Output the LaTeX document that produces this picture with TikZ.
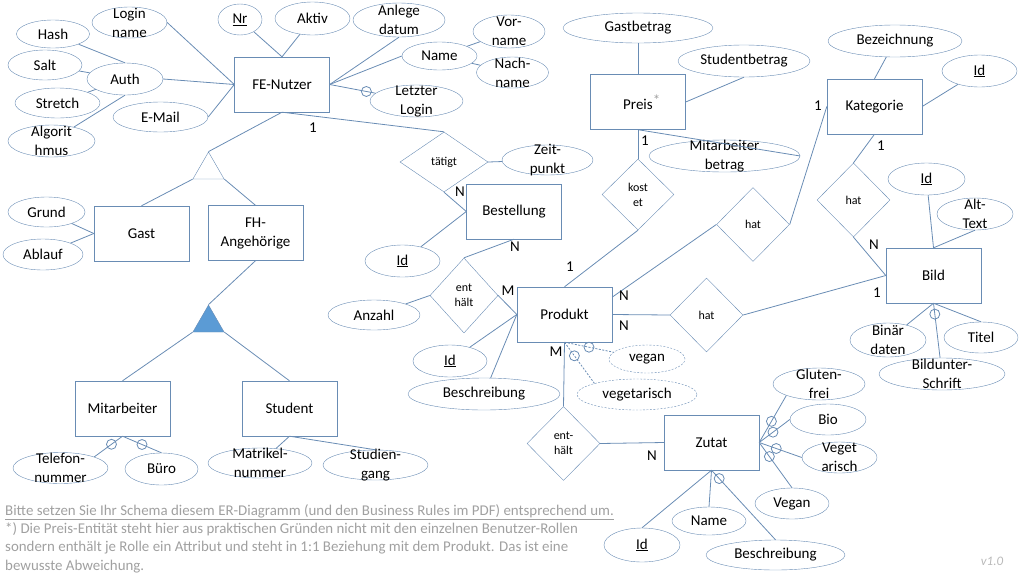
\documentclass[tikz,border=0pt]{standalone}
\usepackage{fontspec}
\setmainfont{Carlito}
\usepackage{xcolor}
\usetikzlibrary{shapes.geometric}

\definecolor{erlinie}{RGB}{105,140,180}
\definecolor{isablau}{RGB}{91,155,213}
\definecolor{notizgrau}{RGB}{160,160,160}
\definecolor{versiongrau}{RGB}{185,185,185}

\newcommand{\erschrift}{\fontsize{15}{19}\selectfont}
\newcommand{\relschrift}{\fontsize{12}{15}\selectfont}
\newcommand{\notizschrift}{\fontsize{14.9}{18.3}\selectfont}

\begin{document}
\begin{tikzpicture}[x=1pt,y=-1pt,
    entity/.style={draw=erlinie,rectangle,minimum width=95pt,minimum height=55pt,align=center,font=\erschrift},
    attr/.style={draw=erlinie,ellipse,inner sep=0pt,minimum width=#1,minimum height=31pt,font=\erschrift},
    attr/.default=75pt,
    zweizeilig/.style={label={[font=\erschrift,align=center,inner sep=0pt]center:#1}},
    rel/.style={draw=erlinie,diamond,inner sep=0pt,minimum width=73pt,minimum height=74pt,align=center,font=\relschrift},
    isa/.style={draw=erlinie,regular polygon,regular polygon sides=3,minimum size=36pt,inner sep=0pt},
    kard/.style={font=\erschrift,inner sep=0pt},
    con/.style={draw=erlinie,line width=0.8pt},
    optc/.style={draw=erlinie,solid,circle,inner sep=0pt,minimum size=10pt},
    dline/.style={dash pattern=on 2pt off 1.5pt},
  ]
	\useasboundingbox (0,0) rectangle (1024,576);
	% Entitaeten
	\node[entity] (fe) at (282,84.5) {FE-Nutzer};
	\node[entity] (preis) at (638,102) {Preis\rlap{\raisebox{4pt}{\textcolor{notizgrau}{*}}}};
	\node[entity] (kat) at (874.5,106.5) {Kategorie};
	\node[entity] (gast) at (141.5,233.5) {Gast};
	\node[entity] (fh) at (255.5,233) {FH-\\Angehörige};
	\node[entity] (bestellung) at (514,211.5) {Bestellung};
	\node[entity] (produkt) at (564.5,314.5) {Produkt};
	\node[entity] (bild) at (933.5,275.5) {Bild};
	\node[entity] (mitarbeiter) at (122.5,408.5) {Mitarbeiter};
	\node[entity] (student) at (289.5,408.5) {Student};
	\node[entity] (zutat) at (711.5,442.5) {Zutat};
	% Generalisierung
	\node[isa] (isa1) at (208.5,170) {};
	\node[isa,fill=isablau] (isa2) at (208.5,323) {};
	% Beziehungen
	\node[rel,minimum width=88pt,minimum height=60pt] (taetigt) at (444,162) {tätigt};
	\node[rel,minimum width=72pt,minimum height=71pt] (kostet) at (638,194.5) {kost\\et};
	\node[rel,minimum width=68pt,minimum height=75pt] (enth1) at (464,295.5) {ent\\hält};
	\node[rel] (hat1) at (753,224.5) {hat};
	\node[rel] (hat3) at (853.5,200) {hat};
	\node[rel] (hat2) at (706.5,315) {hat};
	\node[rel] (enth2) at (563.5,443.5) {ent-\\hält};
	% Attribute FE-Nutzer
	\node[attr=73pt,minimum height=28pt] (hash) at (53,34) {Hash};
	\node[attr,zweizeilig={Login\\name}] (login) at (129.5,22.5) {};
	\node[attr=74pt,minimum height=30pt] (salt) at (45,65) {Salt};
	\node[attr=76pt,minimum height=32pt] (auth) at (125,79) {Auth};
	\node[attr=85pt,minimum height=30pt] (stretch) at (57.5,103) {Stretch};
	\node[attr=95pt,minimum height=30pt] (email) at (160.5,117) {E-Mail};
	\node[attr=87pt,minimum height=32pt,zweizeilig={Algorit\\hmus}] (algo) at (51.5,141) {};
	\node[attr=44pt] (nr) at (240,19.5) {\underline{Nr}};
	\node[attr,minimum height=33pt] (aktiv) at (312.5,18.5) {Aktiv};
	\node[attr=92pt,minimum height=34pt,zweizeilig={Anlege\\datum}] (anlege) at (399,20) {};
	\node[attr,minimum height=28pt] (name) at (439.5,56) {Name};
	\node[attr=72pt,minimum height=33pt,zweizeilig={Vor-\\name}] (vorname) at (509,31.5) {};
	\node[attr=72pt,zweizeilig={Nach-\\name}] (nachname) at (512.5,72.5) {};
	\node[attr=93pt,minimum height=32pt,zweizeilig={Letzter\\Login}] (letzter) at (416.5,101) {};
	% Attribute Preis, Kategorie
	\node[attr=150pt,minimum height=30pt] (gastbetrag) at (638,28) {Gastbetrag};
	\node[attr=132pt,minimum height=32pt] (studentbetrag) at (744,61) {Studentbetrag};
	\node[attr=151pt,minimum height=32pt,zweizeilig={Mitarbeiter\\betrag}] (mbetrag) at (724.5,156) {};
	\node[attr=134pt,minimum height=32pt] (bezeichnung) at (895,41) {Bezeichnung};
	\node[attr,minimum height=32pt] (katid) at (979.5,71) {\underline{Id}};
	% Attribute Gast, Bestellung
	\node[attr=77pt,minimum height=30pt] (grund) at (46.5,212) {Grund};
	\node[attr=80pt] (ablauf) at (43,254.5) {Ablauf};
	\node[attr=91pt,minimum height=30pt,zweizeilig={Zeit-\\punkt}] (zeitpunkt) at (547.5,160) {};
	\node[attr,minimum height=32pt] (bestid) at (402.5,261) {\underline{Id}};
	\node[attr=92pt,minimum height=30pt] (anzahl) at (374,315) {Anzahl};
	% Attribute Bild
	\node[attr=77pt,minimum height=32pt] (bildid) at (926.5,179) {\underline{Id}};
	\node[attr=76pt,minimum height=32pt,zweizeilig={Alt-\\Text}] (alttext) at (975,214) {};
	\node[attr=76pt,minimum height=34pt,zweizeilig={Binär\\daten}] (binaer) at (888,340) {};
	\node[attr=74pt] (titel) at (981,337.5) {Titel};
	\node[attr=126pt,minimum height=32pt,zweizeilig={Bildunter-\\Schrift}] (bildunter) at (942,374) {};
	% Attribute Produkt
	\node[attr=74pt,minimum height=32pt] (prodid) at (450,361) {\underline{Id}};
	\node[attr=152pt,minimum height=32pt] (prodbeschr) at (484,394) {Beschreibung};
	\node[attr=76pt,minimum height=28pt,dline] (vegan) at (647,359) {vegan};
	\node[attr=120pt,dline] (vegetarisch) at (637,394.5) {vegetarisch};
	% Attribute Zutat
	\node[attr=92pt,minimum height=32pt,zweizeilig={Gluten-\\frei}] (glutenfrei) at (819,384) {};
	\node[attr=76pt] (bio) at (828,419.5) {Bio};
	\node[attr,zweizeilig={Veget\\arisch}] (vegetz) at (839.5,457.5) {};
	\node[attr=74pt] (veganz) at (792,503.5) {Vegan};
	\node[attr=76pt,minimum height=34pt] (zutid) at (642,545) {\underline{Id}};
	\node[attr=74pt,minimum height=28pt] (zutname) at (709,521) {Name};
	\node[attr=139pt,minimum height=30pt] (zutbeschr) at (775.5,555) {Beschreibung};
	% Attribute Mitarbeiter, Student
	\node[attr=95pt,zweizeilig={Telefon-\\nummer}] (telefon) at (60.5,468) {};
	\node[attr=73pt,minimum height=32pt] (buero) at (161.5,469) {Büro};
	\node[attr=104pt,minimum height=30pt,zweizeilig={Matrikel-\\nummer}] (matrikel) at (260,463) {};
	\node[attr=105pt,minimum height=30pt,zweizeilig={Studien-\\gang}] (studiengang) at (375.5,465) {};

	% Verbindungen FE-Nutzer
	\draw[con] (login.east) -- (fe.west);
	\draw[con] (auth.east) -- (fe.west);
	\draw[con] (email.east) -- (fe.west);
	\draw[con] (hash) -- (auth.north);
	\draw[con] (salt) -- (auth);
	\draw[con] (stretch) -- (auth);
	\draw[con] (algo) -- (auth.south);
	\draw[con] (nr) -- (fe.north);
	\draw[con] (aktiv) -- (fe.north);
	\draw[con] (anlege.south) -- (fe.east);
	\draw[con] (name.west) -- (fe.east);
	\draw[con] (name) -- (vorname);
	\draw[con] (name) -- (nachname);
	\draw[con] (fe.east) -- node[optc,pos=.8] (optletzt) {} (letzter);
	% Generalisierung
	\draw[con] (fe.south) -- (isa1.corner 1);
	\draw[con] (isa1.corner 2) -- (gast.north);
	\draw[con] (isa1.corner 3) -- (fh.north);
	\draw[con] (fh.south) -- (isa2.corner 1);
	\draw[con] (isa2.corner 2) -- (mitarbeiter.north);
	\draw[con] (isa2.corner 3) -- (student.north);
	\draw[con] (gast.west) -- (grund);
	\draw[con] (gast.west) -- (ablauf);
	\draw[con] (mitarbeiter.south) -- node[optc,pos=.39] (opttel) {} (telefon.north east);
	\draw[con] (mitarbeiter.south) -- node[optc,pos=.5] (optbuero) {} (buero.north);
	\draw[con] (student.south) -- (matrikel);
	\draw[con] (student.south) -- (studiengang.north);
	% Bestellung
	\draw[con] (fe.south) -- (taetigt.north);
	\draw[con] (taetigt.east) -- (zeitpunkt);
	\draw[con] (taetigt.south) -- (bestellung.west);
	\draw[con] (bestid) -- (bestellung.west);
	\draw[con] (bestellung.south) -- (enth1.north);
	\draw[con] (anzahl) -- (enth1.west);
	\draw[con] (enth1.east) -- (produkt.west);
	% Preis
	\draw[con] (produkt.north) -- (kostet.south);
	\draw[con] (kostet.north) -- (preis.south);
	\draw[con] (gastbetrag) -- (preis.north);
	\draw[con] (studentbetrag.south) -- (preis.east);
	\draw[con] (preis.south) -- (mbetrag.east);
	% Kategorie, Bild
	\draw[con] (produkt.20) -- (hat1.west);
	\draw[con] (hat1.east) -- (kat.west);
	\draw[con] (bezeichnung) -- (kat.north);
	\draw[con] (katid) -- (kat.east);
	\draw[con] (kat.south) -- (hat3.north);
	\draw[con] (hat3.south) -- (bild.west);
	\draw[con] (produkt.east) -- (hat2.west);
	\draw[con] (hat2.east) -- (bild.west);
	\draw[con] (bildid) -- (bild.north);
	\draw[con] (alttext.south) -- (bild.north);
	\draw[con] (bild.south) -- (binaer);
	\draw[con] (bild.south) -- (titel.north);
	\draw[con] (bild.south) -- node[optc,pos=.2] (optbu) {} (bildunter);
	% Produkt
	\draw[con] (produkt.west) -- (prodid);
	\draw[con] (produkt.west) -- (prodbeschr);
	\draw[con,dline] (produkt.south) -- node[optc,pos=.5] (optvegan) {} (vegan);
	\draw[con,dline] (produkt.south) -- node[optc,pos=.33] (optveget) {} (vegetarisch.north west);
	\draw[con] (produkt.south) -- (enth2.north);
	\draw[con] (enth2.east) -- (zutat.west);
	% Zutat
	\draw[con] (zutat.east) -- node[optc,pos=.45] (optgf) {} (glutenfrei.south west);
	\draw[con] (zutat.east) -- node[optc,pos=.45] (optbio) {} (bio.west);
	\draw[con] (zutat.east) -- node[optc,pos=.4] (optvz) {} (vegetz.west);
	\draw[con] (zutat.east) -- node[optc,pos=.31] (optvg) {} (veganz.north);
	\draw[con] (zutat.south) -- (zutid.north);
	\draw[con] (zutat.south) -- (zutname.north);
	\draw[con] (zutat.south) -- node[optc,pos=.12] (optzb) {} (zutbeschr.north);

	% Kardinalitaeten
	\node[kard] (k1) at (313,128) {1};
	\node[kard] (k2) at (460,192) {N};
	\node[kard] (k3) at (515,247) {N};
	\node[kard] (k4) at (508,291) {M};
	\node[kard] (k5) at (570,267) {1};
	\node[kard] (k6) at (645,141) {1};
	\node[kard] (k7) at (624,296) {N};
	\node[kard] (k8) at (624,326) {N};
	\node[kard] (k9) at (818,106) {1};
	\node[kard] (k10) at (881,146) {1};
	\node[kard] (k11) at (874,245) {N};
	\node[kard] (k12) at (877,293) {1};
	\node[kard] (k13) at (556,352) {M};
	\node[kard] (k14) at (652,456) {N};

	% Hinweis
	\node[anchor=north west,align=left,inner sep=0pt,font=\notizschrift,text=notizgrau] (hinweis) at (5,504) {\underline{Bitte setzen Sie Ihr Schema diesem ER-Diagramm (und den Business Rules im PDF) entsprechend um.}\\
		*) Die Preis-Entität steht hier aus praktischen Gründen nicht mit den einzelnen Benutzer-Rollen\\
		sondern enthält je Rolle ein Attribut und steht in 1:1 Beziehung mit dem Produkt. Das ist eine\\
		bewusste Abweichung.};
	\node[font=\fontsize{13}{15}\selectfont\itshape,text=versiongrau,inner sep=0pt] (version) at (992,561) {v1.0};
\end{tikzpicture}
\end{document}
